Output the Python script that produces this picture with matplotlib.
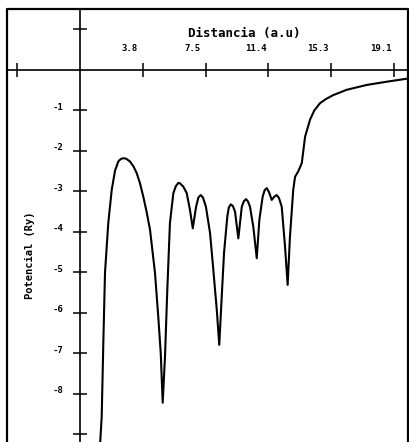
import matplotlib
matplotlib.use("Agg")
import matplotlib.pyplot as plt
from matplotlib.lines import Line2D
from matplotlib.transforms import ScaledTranslation

# ---- data ----
dist = [1.20, 1.32, 1.42, 1.52, 1.72, 1.93, 2.13, 2.33, 2.48, 2.63, 2.80, 3.04, 3.25,
        3.45, 3.65, 3.85, 4.05, 4.26, 4.56, 4.76, 4.91, 5.03, 5.17, 5.31, 5.47,
        5.68, 5.83, 5.98, 6.08, 6.28, 6.49, 6.69, 6.86, 7.06, 7.20, 7.34, 7.48,
        7.66, 7.91, 8.11, 8.32, 8.47, 8.62, 8.76, 8.96, 9.05, 9.17, 9.30, 9.43,
        9.63, 9.84, 9.97, 10.10, 10.22, 10.34, 10.54, 10.75, 10.91, 11.11, 11.23,
        11.36, 11.50, 11.66, 11.82, 11.96, 12.10, 12.27, 12.47, 12.63, 12.77,
        12.97, 13.08, 13.28, 13.49, 13.69, 13.99, 14.25, 14.60, 14.95, 15.41,
        16.22, 17.44, 18.66, 19.97]
pot = [-9.40, -8.56, -6.72, -5.01, -3.78, -2.96, -2.49, -2.26, -2.20, -2.18, -2.19, -2.26, -2.38,
       -2.55, -2.80, -3.13, -3.50, -3.95, -5.01, -6.09, -6.99, -8.22, -7.08, -5.43, -3.78,
       -3.04, -2.87, -2.79, -2.80, -2.88, -3.04, -3.46, -3.91, -3.38, -3.15, -3.09, -3.15,
       -3.38, -4.03, -4.94, -5.93, -6.79, -5.60, -4.52, -3.62, -3.40, -3.32, -3.36, -3.50,
       -4.16, -3.38, -3.24, -3.19, -3.25, -3.38, -3.87, -4.65, -3.70, -3.13, -2.97,
       -2.92, -3.02, -3.21, -3.13, -3.09, -3.16, -3.38, -4.36, -5.31, -4.12,
       -2.96, -2.64, -2.50, -2.30, -1.65, -1.23, -1.00, -0.82, -0.72, -0.62,
       -0.49, -0.37, -0.29, -0.21]

x_ticks = [-3.82, 3.82, 7.64, 11.46, 15.28, 19.10]
x_labels = ["", "3.8", "7.5", "11.4", "15.3", "19.1"]
y_ticks = [1, -1, -2, -3, -4, -5, -6, -7, -8, -9]
y_labels = ["", "-1", "-2", "-3", "-4", "-5", "-6", "-7", "-8", ""]

x_title = "Distancia (a.u)"
y_title = "Potencial (Ry)"

# ---- figure ----
fig = plt.figure(figsize=(4.10, 4.42), dpi=100)
fig.patch.set_facecolor("white")
ax = fig.add_axes([7 / 410, 0.0, 401 / 410, 433 / 442])
ax.set_xlim(-4.44, 19.95)
ax.set_ylim(-9.19, 1.506)

ax.plot(dist, pot, color="black", lw=1.5, solid_joinstyle="round")

# axes crossing at zero
for s in ["right", "bottom"]:
    ax.spines[s].set_visible(False)
ax.spines["left"].set_position(("data", 0))
ax.spines["top"].set_position(("data", 0))
ax.spines["left"].set_linewidth(1.2)
ax.spines["top"].set_linewidth(1.2)

ax.xaxis.tick_top()
ax.set_xticks(x_ticks)
ax.set_xticklabels(x_labels)
ax.set_yticks(y_ticks)
ax.set_yticklabels(y_labels)
mono = {"family": "DejaVu Sans Mono", "weight": "bold", "size": 6.5}
ax.tick_params(axis="both", direction="inout", length=10, width=1.1, color="black")
ax.tick_params(axis="x", pad=7)
ax.tick_params(axis="y", pad=7)
for lab in ax.get_xticklabels():
    lab.set_fontproperties(mono)
    lab.set_transform(lab.get_transform() + ScaledTranslation(-13 / 100, 0, fig.dpi_scale_trans))
for lab in ax.get_yticklabels():
    lab.set_fontproperties(mono)
    lab.set_transform(lab.get_transform() + ScaledTranslation(0, 4 / 100, fig.dpi_scale_trans))

# outer frame (no bottom edge)
frame = Line2D([0, 0, 1, 1], [0, 1, 1, 0], transform=ax.transAxes,
               color="black", lw=1.6, clip_on=False)
ax.add_line(frame)

fig.text(244 / 410, 1 - 33 / 442, x_title, ha="center", va="center",
         family="DejaVu Sans Mono", weight="bold", fontsize=9)
fig.text(30 / 410, 1 - 255 / 442, y_title, ha="center", va="center", rotation=90,
         family="DejaVu Sans Mono", weight="bold", fontsize=7.5)

fig.savefig("out.png", dpi=100, facecolor="white")
